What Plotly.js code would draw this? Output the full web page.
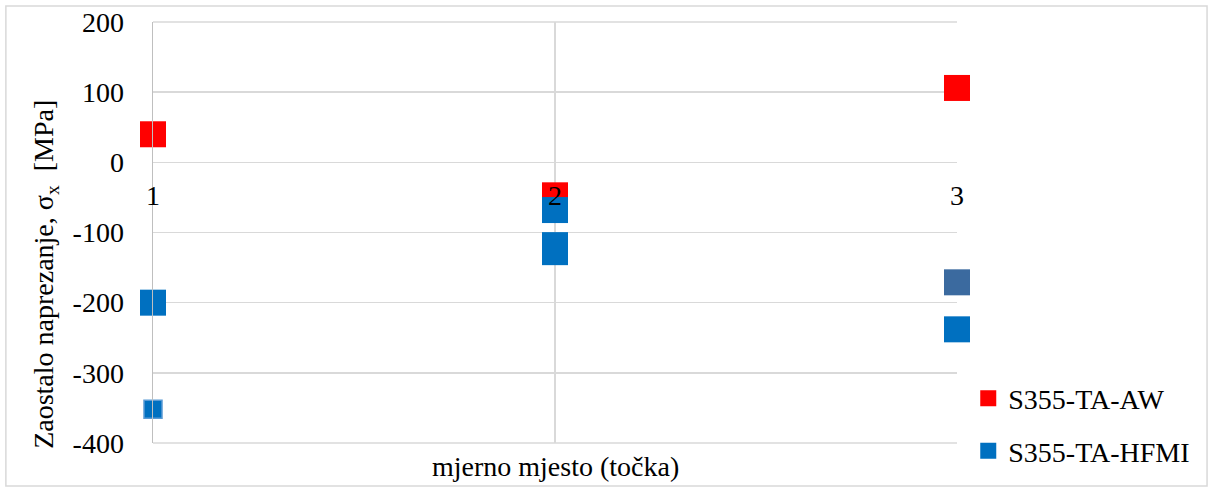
<!DOCTYPE html>
<html>
<head>
<meta charset="utf-8">
<script src="https://cdn.plot.ly/plotly-3.0.1.min.js"></script>
<style>
html,body{margin:0;padding:0;background:#fff;}
#chart{width:1213px;height:491px;}
</style>
</head>
<body>
<div id="chart"></div>
<script>
// measuring points
var tickLabels = ['1', '2', '3'];
var yTickVals = [200, 100, 0, -100, -200, -300, -400];
var yTickText = ['200', '100', '0', '-100', '-200', '-300', '-400'];
// S355-TA-AW
var awX = [1, 2, 3];
var awY = [40, -47, 106];
// S355-TA-HFMI (main shade)
var hfmiX = [1, 2, 2, 2, 3];
var hfmiY = [-200, -68, -118, -128, -238];
// S355-TA-HFMI (darker shade point)
var hfmiDarkX = [3];
var hfmiDarkY = [-171];
// S355-TA-HFMI (small point)
var hfmiSmallX = [1];
var hfmiSmallY = [-352];

var FONT = '"Liberation Serif"';
var FS = 28;

var traces = [
  {x: awX, y: awY, type: 'scatter', mode: 'markers', name: 'S355-TA-AW', legendgroup: 'aw',
   marker: {symbol: 'square', size: 26, color: '#FF0000'}, cliponaxis: false},
  {x: hfmiX, y: hfmiY, type: 'scatter', mode: 'markers', name: 'S355-TA-HFMI', legendgroup: 'hfmi',
   marker: {symbol: 'square', size: 26, color: '#0070C0'}, cliponaxis: false},
  {x: hfmiDarkX, y: hfmiDarkY, type: 'scatter', mode: 'markers', name: 'S355-TA-HFMI', showlegend: false, legendgroup: 'hfmi',
   marker: {symbol: 'square', size: 26, color: '#3B6A9F'}, cliponaxis: false},
  {x: hfmiSmallX, y: hfmiSmallY, type: 'scatter', mode: 'markers', name: 'S355-TA-HFMI', showlegend: false, legendgroup: 'hfmi',
   marker: {symbol: 'square', size: 18, color: '#0070C0', line: {width: 1.5, color: '#5B9BD5'}}, cliponaxis: false}
];

var layout = {
  width: 1213, height: 491,
  margin: {l: 153, r: 256, t: 22, b: 48},
  paper_bgcolor: '#fff', plot_bgcolor: '#fff',
  font: {family: FONT, size: FS, color: '#000'},
  showlegend: true,
  legend: {x: 1.014, y: 0.165, xanchor: 'left', yanchor: 'top', tracegroupgap: 13,
           font: {family: FONT, size: FS, color: '#000'}, itemwidth: 30, bgcolor: 'rgba(0,0,0,0)'},
  xaxis: {range: [1, 3], tickvals: awX, ticktext: tickLabels, anchor: 'free', position: 0.6667,
          showgrid: true, gridcolor: '#D9D9D9', gridwidth: 1.5, zeroline: false, showline: false,
          ticks: '', ticklabelstandoff: 14, tickfont: {family: FONT, size: FS, color: '#000'}},
  yaxis: {range: [-400, 200], tickvals: yTickVals, ticktext: yTickText, showgrid: true, gridcolor: '#D9D9D9', gridwidth: 1.5,
          zeroline: false, showline: true, linecolor: '#BFBFBF', linewidth: 1.5,
          ticks: '', ticklabelstandoff: 22, tickfont: {family: FONT, size: FS, color: '#000'}},
  annotations: [
    {text: 'mjerno mjesto (točka)', xref: 'paper', yref: 'paper', x: 0.5, y: -0.057,
     xanchor: 'center', yanchor: 'middle', showarrow: false,
     font: {family: FONT, size: FS, color: '#000'}},
    {text: 'Zaostalo naprezanje, σ<sub>x</sub>  [MPa]', xref: 'paper', yref: 'paper', x: -0.134, y: 0.40,
     xanchor: 'center', yanchor: 'middle', textangle: -90, showarrow: false,
     font: {family: FONT, size: FS, color: '#000'}}
  ],
  shapes: [
    {type: 'rect', xref: 'paper', yref: 'paper', x0: -0.183, x1: 1.311, y0: -0.102, y1: 1.038,
     line: {color: '#D9D9D9', width: 1.5}, fillcolor: 'rgba(0,0,0,0)', layer: 'below'},
    {type: 'line', xref: 'paper', yref: 'paper', x0: 0, x1: 1, y0: 1, y1: 1,
     line: {color: '#D9D9D9', width: 1.5}, layer: 'between'},
    {type: 'line', xref: 'paper', yref: 'paper', x0: 0, x1: 1, y0: 0, y1: 0,
     line: {color: '#D9D9D9', width: 1.5}, layer: 'between'}
  ]
};

Plotly.newPlot('chart', traces, layout, {displayModeBar: false, staticPlot: true});
</script>
</body>
</html>
